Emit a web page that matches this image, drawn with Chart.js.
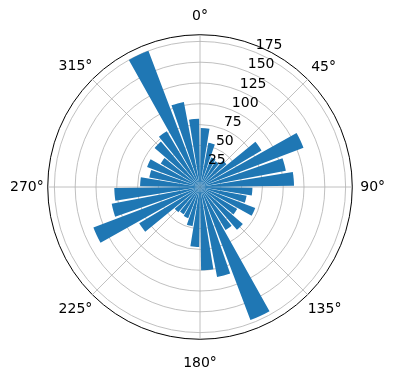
<!DOCTYPE html>
<html>
<head>
<meta charset="utf-8">
<script src="https://cdn.jsdelivr.net/npm/chart.js@4"></script>
<style>
  body { margin: 0; background: #fff; }
  canvas { display: block; }
</style>
</head>
<body>
<canvas id="rose" width="396" height="380"></canvas>
<script>
// counts per 10-degree sector, clockwise from north (sector centres 5°, 15°, ... 355°)
const counts = [
    71, 54, 38, 36, 42, 86, 133, 105, 113,
    63, 57, 71, 52, 68, 60, 171, 110, 100,
    72, 48, 40, 38, 40, 85, 137, 108, 103,
    72, 62, 68, 55, 72, 78, 175, 104, 82
];
const angleLabels = ['0°', '45°', '90°', '135°', '180°', '225°', '270°', '315°'];
const radialTicks = [25, 50, 75, 100, 125, 150, 175];
const rMax = 183;

const sectorDeg = 360 / counts.length;
const barDeg = 8.5;
// chart.js anchors the labels by a corner, matplotlib centres them; nudge to match
const labelPad = [10, 5, 8, 0, 16, 0, 4, 0];
const labelLine = ['16.8px', '16.8px', '16.8px', '29px', '16.8px', '29px', '16.8px', '26px'];

// each sector = half gap, bar, half gap
const slices = [];
counts.forEach(v => slices.push(0, v, 0));

// radial tick labels sit at 22.5° like matplotlib's rlabel_position
const rLabels = {
    id: 'rLabels',
    afterDatasetsDraw(chart) {
        const s = chart.scales.r;
        const ctx = chart.ctx;
        const a = 22.5 * Math.PI / 180;
        ctx.save();
        ctx.font = '14px "DejaVu Sans"';
        ctx.fillStyle = '#000';
        ctx.textAlign = 'left';
        ctx.textBaseline = 'bottom';
        radialTicks.forEach(v => {
            const d = s.getDistanceFromCenterForValue(v);
            ctx.fillText(String(v), s.xCenter + d * Math.sin(a), s.yCenter - d * Math.cos(a));
        });
        ctx.restore();
    }
};

new Chart(document.getElementById('rose').getContext('2d'), {
    type: 'polarArea',
    data: {
        labels: angleLabels,
        datasets: [{
            data: slices,
            backgroundColor: '#1f77b4',
            borderWidth: 0,
            angle: c => c.dataIndex % 3 === 1 ? barDeg : (sectorDeg - barDeg) / 2
        }]
    },
    options: {
        responsive: false,
        animation: false,
        layout: { padding: { left: 8, right: 8, top: 3, bottom: 1 } },
        plugins: { legend: { display: false }, tooltip: { enabled: false } },
        scales: {
            r: {
                min: 0,
                max: rMax,
                startAngle: 0,
                ticks: { display: false },
                afterBuildTicks: s => { s.ticks = [0, ...radialTicks, rMax].map(v => ({ value: v })); },
                grid: {
                    circular: true,
                    color: c => c.tick && c.tick.value === rMax ? '#000' : '#b0b0b0',
                    lineWidth: c => c.tick && c.tick.value === rMax ? 1 : 0.8
                },
                angleLines: { display: true, color: '#b0b0b0', lineWidth: 0.8 },
                pointLabels: {
                    display: true,
                    color: '#000',
                    font: c => ({ family: 'DejaVu Sans', size: 14, lineHeight: labelLine[c.index] }),
                    padding: c => labelPad[c.index]
                }
            }
        }
    },
    plugins: [rLabels]
});
</script>
</body>
</html>
